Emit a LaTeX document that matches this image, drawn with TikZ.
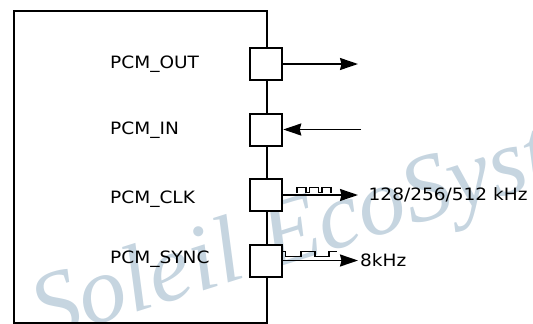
\documentclass[tikz,border=0pt]{standalone}
\usepackage{fontspec}
\setmainfont[FakeStretch=1.09]{DejaVu Sans}
\newfontfamily\wmfont{Liberation Serif}
\usetikzlibrary{arrows.meta}
\definecolor{wmblue}{RGB}{198,213,224}
\begin{document}
\begin{tikzpicture}[x=1pt,y=-1pt,
  lbl/.style={anchor=base west,inner sep=0pt,font=\fontsize{17}{18}\selectfont},
  port/.style={draw,fill=white,line width=2pt,minimum width=32.5pt,minimum height=32pt,inner sep=0pt},
  sig/.style={line width=1.7pt,-{Stealth[length=18pt,width=12pt,inset=1.5pt]}},
  wave/.style={line width=1.5pt}]
\useasboundingbox (0,0) rectangle (533,324);
\begin{scope}
\clip (0,0) rectangle (533,324);
\node[rotate=17.5,anchor=base west,inner sep=0pt,text=wmblue,font=\wmfont\itshape\fontsize{95}{95}\selectfont] (wm) at (42,342) {Soleil EcoSyst};
\end{scope}
\node[draw,line width=2pt,minimum width=253pt,minimum height=312pt,inner sep=0pt,anchor=north west] (chip) at (13,10) {};
\node[port] (pout) at (266,64) {};
\node[port] (pin) at (266,129.5) {};
\node[port] (pclk) at (266,195) {};
\node[port] (psync) at (266,260.5) {};
\node[lbl] (lout) at (110,68.3) {PCM\_OUT};
\node[lbl] (lin) at (110,134) {PCM\_IN};
\node[lbl] (lclk) at (110,203.3) {PCM\_CLK};
\node[lbl] (lsync) at (110,263.3) {PCM\_SYNC};
\coordinate (outend) at (358,64);
\coordinate (instart) at (361,129.5);
\coordinate (clkend) at (358,195);
\coordinate (syncend) at (358,260.5);
\draw[sig] (pout.east) -- (outend);
\draw[sig] (instart) -- (pin.east);
\draw[sig] (pclk.east) -- (clkend);
\draw[sig] (psync.east) -- (syncend);
\draw[wave] (297,192.5) -- ++(0,-4.8) -- ++(9,0) -- ++(0,4.8) -- ++(3.5,0) -- ++(0,-4.8) -- ++(9,0) -- ++(0,4.8) -- ++(3.5,0) -- ++(0,-4.8) -- ++(9,0) -- ++(0,4.8);
\draw[wave] (283,251.3) -- (285.5,251.3) -- (285.5,256.7) -- (301,256.7) -- (301,251.3) -- (315,251.3) -- (315,256.7) -- (329,256.7) -- (329,251.3) -- (337,251.3);
\node[lbl] (fclk) at (368.5,200.7) {128/256/512 kHz};
\node[lbl] (fsync) at (360,266.7) {8kHz};
\end{tikzpicture}
\end{document}
